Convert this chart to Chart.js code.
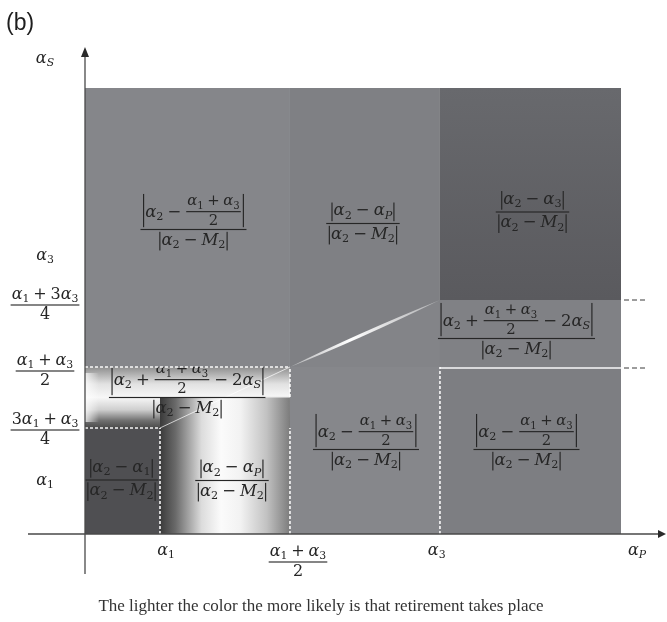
<!DOCTYPE html>
<html>
<head>
<meta charset="utf-8">
<script src="https://cdn.jsdelivr.net/npm/chart.js@4.4.0/dist/chart.umd.min.js"></script>
<style>
  html, body { margin: 0; padding: 0; background: #fff; }
  canvas { display: block; }
</style>
</head>
<body>
<canvas id="regions" width="667" height="622"></canvas>
<script>
// cut points on the alpha_P axis: 0, α1, (α1+α3)/2, α3, right edge
const xCuts = [0, 1.0, 2.733, 4.733, 7.147];
// cut points on the alpha_S axis: 0, (3α1+α3)/4, box line, (α1+α3)/2, (α1+3α3)/4, top edge
const yCuts = [0, 2.12, 2.74, 3.34, 4.68, 8.92];

// axis ranges
const xRange = [-0.76, 7.747];
const yRange = [-0.8, 9.74];

// tick labels
const xTickValues = [1.08, 2.84, 4.69, 7.36];
const xTickLabels = ['α_1', '{α_1 + α_3}/{2}', 'α_3', 'α_P'];
const yTickValues = [9.52, 5.58, 4.58, 3.26, 2.08, 1.08];
const yTickLabels = ['α_S', 'α_3', '{α_1 + 3α_3}/{4}', '{α_1 + α_3}/{2}', '{3α_1 + α_3}/{4}', 'α_1'];

// cells, as index pairs into the cut lists
const cellX = [[0, 2], [2, 3], [3, 4], [3, 4], [2, 3], [3, 4], [0, 2], [0, 1], [1, 2]];
const cellY = [[3, 5], [3, 5], [4, 5], [3, 4], [0, 3], [0, 3], [1, 3], [0, 1], [0, 2]];
const cellLabels = [
  '{[α_2 − {α_1 + α_3}/{2}]}/{[α_2 − M_2]}',
  '{[α_2 − α_P]}/{[α_2 − M_2]}',
  '{[α_2 − α_3]}/{[α_2 − M_2]}',
  '{[α_2 + {α_1 + α_3}/{2} − 2α_S]}/{[α_2 − M_2]}',
  '{[α_2 − {α_1 + α_3}/{2}]}/{[α_2 − M_2]}',
  '{[α_2 − {α_1 + α_3}/{2}]}/{[α_2 − M_2]}',
  '{[α_2 + {α_1 + α_3}/{2} − 2α_S]}/{[α_2 − M_2]}',
  '{[α_2 − α_1]}/{[α_2 − M_2]}',
  '{[α_2 − α_P]}/{[α_2 − M_2]}'
];

const caption = 'The lighter the color the more likely is that retirement takes place';

// ---- styling ----
const cellFill = [
  '#85868a',
  '#7f8084',
  { dir: 'v', stops: [[0, '#68696d'], [1, '#5a5a5e']] },
  '#808185',
  '#86878b',
  '#7d7e82',
  { dir: 'v', stops: [[0, '#8e8e8e'], [0.28, '#e2e2e2'], [0.5, '#f7f7f7'], [0.7, '#cfcfcf'], [0.88, '#6f6f6f'], [1, '#4a4a4a']] },
  '#4f4f52',
  { dir: 'h', stops: [[0, '#3a3a3a'], [0.12, '#6a6a6a'], [0.32, '#dcdcdc'], [0.47, '#fbfbfb'], [0.62, '#f2f2f2'], [0.82, '#c2c2c2'], [1, '#7c7c7c']] }
];
const labelNudge = [[6, 2], [-2, -4], [2, 18], [-14, 5], [1, -1], [-4, -1], [0, 0], [-1, -1], [7, 15]];
const clipLabel = [false, false, false, false, false, false, true, true, false];

const MATH_FONT = '"DejaVu Serif", serif';
const INK = '#262626';
const MATH_SIZE = 16.5;
const TICK_SIZE = 16;

// tiny math layout: [..] abs, {a}/{b} fraction, x_y subscript
function parseTex(s) {
  let i = 0;
  function row(end) {
    const out = [];
    while (i < s.length && s[i] !== end) {
      const c = s[i];
      if (c === '[') { i++; out.push({ k: 'abs', b: row(']') }); i++; }
      else if (c === '{') {
        i++; const n = row('}'); i++;
        if (s[i] === '/') { i += 2; const d = row('}'); i++; out.push({ k: 'frac', n, d }); }
        else out.push({ k: 'grp', b: n });
      }
      else if (c === '_') { i++; out.push({ k: 'sub', b: out.pop(), s: s[i] }); i++; }
      else { out.push({ k: 't', s: c }); i++; }
    }
    return out;
  }
  return row('\0');
}

function isVar(c) { return /[A-Za-z\u03b1-\u03c9]/.test(c); }

function layRow(ctx, row, sz, dp) {
  const boxes = row.map(n => layNode(ctx, n, sz, dp));
  let w = 0, a = 0, d = 0;
  boxes.forEach(b => { w += b.w; a = Math.max(a, b.a); d = Math.max(d, b.d); });
  return { w, a, d, draw(x, y) { boxes.forEach(b => { b.draw(x, y); x += b.w; }); } };
}

function layNode(ctx, n, sz, dp) {
  if (n.k === 't') {
    if (n.s === ' ') return { w: sz * 0.24, a: 0, d: 0, draw() {} };
    const font = (isVar(n.s) ? 'italic ' : '') + sz + 'px ' + MATH_FONT;
    ctx.font = font;
    const w = ctx.measureText(n.s).width;
    return { w, a: sz * 0.72, d: sz * 0.06, draw(x, y) { ctx.font = font; ctx.fillText(n.s, x, y); } };
  }
  if (n.k === 'sub') {
    const b = layNode(ctx, n.b, sz, dp);
    const s = layNode(ctx, { k: 't', s: n.s }, sz * 0.68, dp);
    const drop = sz * 0.22;
    return { w: b.w + s.w, a: b.a, d: Math.max(b.d, drop + s.d),
      draw(x, y) { b.draw(x, y); s.draw(x + b.w, y + drop); } };
  }
  if (n.k === 'grp') return layRow(ctx, n.b, sz, dp);
  if (n.k === 'abs') {
    const r = layRow(ctx, n.b, sz, dp);
    const pad = sz * 0.22, lw = Math.max(1, sz * 0.07);
    const a = r.a + sz * 0.05, d = r.d + sz * 0.1;
    return { w: r.w + 2 * pad, a, d, draw(x, y) {
      ctx.fillRect(x + pad * 0.4, y - a, lw, a + d);
      ctx.fillRect(x + r.w + pad * 1.6 - lw, y - a, lw, a + d);
      r.draw(x + pad, y);
    } };
  }
  if (n.k === 'frac') {
    const fs = dp > 0 ? sz * 0.9 : sz;
    const nu = layRow(ctx, n.n, fs, dp + 1), de = layRow(ctx, n.d, fs, dp + 1);
    const axis = sz * 0.3, gap = sz * 0.14, lw = Math.max(1, sz * 0.07);
    const w = Math.max(nu.w, de.w) + sz * 0.25;
    return { w, a: axis + gap + nu.d + nu.a, d: gap + de.a + de.d - axis, draw(x, y) {
      const by = y - axis;
      ctx.fillRect(x + sz * 0.06, by - lw / 2, w - sz * 0.12, lw);
      nu.draw(x + (w - nu.w) / 2, by - gap - nu.d);
      de.draw(x + (w - de.w) / 2, by + gap + de.a);
    } };
  }
}

function drawTex(ctx, tex, cx, cy, sz) {
  const box = layRow(ctx, parseTex(tex), sz, 0);
  ctx.fillStyle = INK;
  ctx.textBaseline = 'alphabetic';
  box.draw(cx - box.w / 2, cy + sz * 0.3);
}

const diagram = {
  id: 'diagram',
  afterDraw(chart) {
    const { ctx, scales: { x, y } } = chart;
    const px = v => x.getPixelForValue(v);
    const py = v => y.getPixelForValue(v);
    const X = xCuts.map(px), Y = yCuts.map(py);
    ctx.save();

    // cells
    cellX.forEach((cx, i) => {
      const x0 = X[cx[0]], x1 = X[cx[1]], y0 = Y[cellY[i][1]], y1 = Y[cellY[i][0]];
      const f = cellFill[i];
      if (typeof f === 'string') ctx.fillStyle = f;
      else {
        const g = f.dir === 'h' ? ctx.createLinearGradient(x0, 0, x1, 0) : ctx.createLinearGradient(0, y0, 0, y1);
        f.stops.forEach(s => g.addColorStop(s[0], s[1]));
        ctx.fillStyle = g;
      }
      ctx.fillRect(x0, y0, x1 - x0, y1 - y0);
      if (i === 6) {
        const g = ctx.createLinearGradient(x0, 0, x0 + 14, 0);
        g.addColorStop(0, 'rgba(255,255,255,0.75)');
        g.addColorStop(1, 'rgba(255,255,255,0)');
        ctx.fillStyle = g;
        ctx.fillRect(x0, y0 + 6, 14, y1 - y0 - 12);
      }
    });

    // lower triangle in the middle column
    ctx.fillStyle = '#838488';
    ctx.beginPath();
    ctx.moveTo(X[2], Y[3]); ctx.lineTo(X[3], Y[4]); ctx.lineTo(X[3], Y[3]); ctx.closePath();
    ctx.fill();

    // bright diagonal
    const p0 = [X[2], Y[3]], p1 = [X[3], Y[4]];
    const len = Math.hypot(p1[0] - p0[0], p1[1] - p0[1]);
    const nx = -(p1[1] - p0[1]) / len, ny = (p1[0] - p0[0]) / len;
    const mx = p0[0] + (p1[0] - p0[0]) * 0.45, my = p0[1] + (p1[1] - p0[1]) * 0.45;
    const dg = ctx.createLinearGradient(p0[0], p0[1], p1[0], p1[1]);
    dg.addColorStop(0, 'rgba(255,255,255,0.4)');
    dg.addColorStop(0.4, 'rgba(255,255,255,1)');
    dg.addColorStop(1, 'rgba(255,255,255,0.35)');
    ctx.fillStyle = dg;
    ctx.beginPath();
    ctx.moveTo(p0[0], p0[1]);
    ctx.quadraticCurveTo(mx + nx * 3.2, my + ny * 3.2, p1[0], p1[1]);
    ctx.quadraticCurveTo(mx - nx * 3.2, my - ny * 3.2, p0[0], p0[1]);
    ctx.fill();

    // faint diagonal in the light area
    ctx.strokeStyle = 'rgba(255,255,255,0.7)';
    ctx.lineWidth = 1;
    ctx.beginPath();
    ctx.moveTo(X[1], Y[1]); ctx.lineTo(X[2], Y[3]);
    ctx.stroke();

    // cell labels
    cellLabels.forEach((tex, i) => {
      const cx = (X[cellX[i][0]] + X[cellX[i][1]]) / 2 + labelNudge[i][0];
      const cy = (Y[cellY[i][0]] + Y[cellY[i][1]]) / 2 + labelNudge[i][1];
      ctx.save();
      if (clipLabel[i]) {
        ctx.beginPath();
        ctx.rect(X[cellX[i][0]], Y[cellY[i][1]], X[cellX[i][1]] - X[cellX[i][0]], Y[cellY[i][0]] - Y[cellY[i][1]]);
        ctx.clip();
      }
      drawTex(ctx, tex, cx, cy, MATH_SIZE);
      ctx.restore();
    });

    // short light edge of the label box in the band
    ctx.strokeStyle = 'rgba(235,235,235,0.9)';
    ctx.lineWidth = 1.2;
    ctx.beginPath();
    ctx.moveTo(X[2] - 25, Y[2]); ctx.lineTo(X[2], Y[2]);
    ctx.stroke();

    // white dashed borders
    ctx.strokeStyle = 'rgba(255,255,255,0.95)';
    ctx.lineWidth = 1.6;
    ctx.setLineDash([3, 2]);
    const dashes = [[0, 3, 2, 3], [0, 1, 1, 1], [1, 0, 1, 1], [2, 0, 2, 1], [2, 2, 2, 3], [3, 0, 3, 3]];
    dashes.forEach(s => {
      ctx.beginPath();
      ctx.moveTo(X[s[0]], Y[s[1]]); ctx.lineTo(X[s[2]], Y[s[3]]);
      ctx.stroke();
    });
    ctx.setLineDash([]);
    ctx.lineWidth = 1.5;
    ctx.beginPath();
    ctx.moveTo(X[3], Y[3] + 1); ctx.lineTo(X[4], Y[3] + 1);
    ctx.stroke();

    // dashed guides to the right
    ctx.strokeStyle = '#3a3a3a';
    ctx.lineWidth = 1;
    ctx.setLineDash([5, 3]);
    [Y[4], Y[3] + 1].forEach(yy => {
      ctx.beginPath();
      ctx.moveTo(X[4] + 3, yy); ctx.lineTo(X[4] + 26, yy);
      ctx.stroke();
    });
    ctx.setLineDash([]);

    // axes with arrows
    const ox = px(0), oy = py(0);
    ctx.strokeStyle = '#4a4a4a';
    ctx.fillStyle = '#2a2a2a';
    ctx.lineWidth = 1.3;
    ctx.beginPath();
    ctx.moveTo(x.left, oy); ctx.lineTo(x.right - 6, oy);
    ctx.moveTo(ox, y.bottom); ctx.lineTo(ox, y.top + 8);
    ctx.stroke();
    ctx.beginPath();
    ctx.moveTo(x.right, oy); ctx.lineTo(x.right - 8, oy - 4); ctx.lineTo(x.right - 8, oy + 4); ctx.closePath();
    ctx.moveTo(ox, y.top); ctx.lineTo(ox - 4, y.top + 10); ctx.lineTo(ox + 4, y.top + 10); ctx.closePath();
    ctx.fill();

    // tick labels
    xTickValues.forEach((v, i) => {
      const isFrac = xTickLabels[i].includes('/');
      drawTex(ctx, xTickLabels[i], px(v), oy + 16 + (isFrac ? 12 : 0), TICK_SIZE);
    });
    yTickValues.forEach((v, i) => {
      drawTex(ctx, yTickLabels[i], 45, py(v), TICK_SIZE);
    });

    // panel tag and caption
    ctx.fillStyle = '#1e1e1e';
    ctx.font = '23px "Liberation Sans", Arial, sans-serif';
    ctx.textAlign = 'left';
    ctx.fillText('(b)', 6, 30);
    ctx.fillStyle = '#333';
    ctx.font = '17px "Liberation Serif", "Times New Roman", serif';
    ctx.textAlign = 'center';
    ctx.fillText(caption, 321, 611);
    ctx.restore();
  }
};

const ctx = document.getElementById('regions');

new Chart(ctx, {
  type: 'scatter',
  data: { datasets: [] },
  options: {
    responsive: false,
    animation: false,
    devicePixelRatio: 1,
    layout: { padding: { left: 28, right: 1, top: 47, bottom: 48 } },
    plugins: {
      legend: { display: false },
      tooltip: { enabled: false },
    },
    scales: {
      x: { type: 'linear', min: xRange[0], max: xRange[1], display: false },
      y: { type: 'linear', min: yRange[0], max: yRange[1], display: false },
    },
  },
  plugins: [diagram],
});
</script>
</body>
</html>
